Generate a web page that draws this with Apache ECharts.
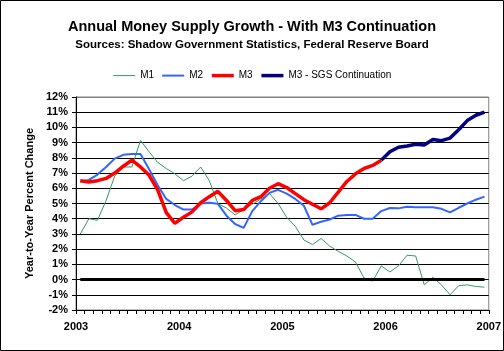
<!DOCTYPE html>
<html>
<head>
<meta charset="utf-8">
<script src="https://cdn.jsdelivr.net/npm/echarts@6/dist/echarts.min.js"></script>
<style>
    html, body { margin: 0; padding: 0; background: #fff; }
    #chart { width: 504px; height: 351px; }
</style>
</head>
<body>
<div id="chart"></div>
<script>
// Monthly categories, Jan 2003 - Dec 2006
const months = [
    '2003-01','2003-02','2003-03','2003-04','2003-05','2003-06','2003-07','2003-08','2003-09','2003-10','2003-11','2003-12',
    '2004-01','2004-02','2004-03','2004-04','2004-05','2004-06','2004-07','2004-08','2004-09','2004-10','2004-11','2004-12',
    '2005-01','2005-02','2005-03','2005-04','2005-05','2005-06','2005-07','2005-08','2005-09','2005-10','2005-11','2005-12',
    '2006-01','2006-02','2006-03','2006-04','2006-05','2006-06','2006-07','2006-08','2006-09','2006-10','2006-11','2006-12'
];
const yearLabels = ['2003', '2004', '2005', '2006', '2007'];

// Year-to-year percent change
const m1 = [
    3.0, 4.0, 3.9, 5.2, 6.8, 7.4, 7.4, 9.15, 8.4, 7.7, 7.3, 6.95,
    6.5, 6.8, 7.4, 6.5, 5.0, 4.7, 4.25, 4.6, 4.95, 5.3, 5.65, 5.0,
    4.1, 3.5, 2.6, 2.3, 2.7, 2.2, 1.85, 1.55, 1.15, 0.1, -0.1, 0.9,
    0.5, 0.9, 1.6, 1.55, -0.35, 0.15, -0.35, -1.0, -0.4, -0.35, -0.45, -0.5
];
const m2 = [
    6.45, 6.55, 6.9, 7.4, 7.95, 8.2, 8.25, 8.25, 7.25, 6.2, 5.3, 4.9,
    4.6, 4.6, 5.0, 5.05, 4.98, 4.2, 3.65, 3.4, 4.5, 5.15, 5.7, 5.9,
    5.65, 5.3, 4.85, 3.6, 3.8, 3.95, 4.2, 4.25, 4.25, 4.0, 4.0, 4.5,
    4.7, 4.68, 4.78, 4.75, 4.75, 4.75, 4.65, 4.42, 4.72, 5.0, 5.25, 5.45
];
const m3 = [
    6.5, 6.42, 6.5, 6.65, 7.0, 7.45, 7.85, 7.4, 6.85, 5.9, 4.4, 3.7,
    4.1, 4.45, 5.05, 5.45, 5.8, 5.2, 4.53, 4.6, 5.2, 5.45, 6.0, 6.3,
    6.05, 5.65, 5.25, 4.95, 4.65, 5.05, 5.75, 6.45, 6.95, 7.3, 7.5, 7.85,
    null, null, null, null, null, null, null, null, null, null, null, null
];
const m3Sgs = [
    null, null, null, null, null, null, null, null, null, null, null, null,
    null, null, null, null, null, null, null, null, null, null, null, null,
    null, null, null, null, null, null, null, null, null, null, null, 7.85,
    8.4, 8.7, 8.78, 8.9, 8.85, 9.2, 9.13, 9.3, 9.85, 10.45, 10.8, 11.0
];

const font = "'Liberation Sans', Arial, sans-serif";

// black grid lines, the top one grey like the plot border
const splitColors = [];
for (let i = 0; i < 14; i++) splitColors.push('#000');
splitColors.push('#808080');

const chart = echarts.init(document.getElementById('chart'));
chart.setOption({
    backgroundColor: '#fff',
    animation: false,
    textStyle: { fontFamily: font },
    title: [
        {
            text: 'Annual Money Supply Growth - With M3 Continuation',
            left: 'center', top: 19, padding: 0,
            textStyle: { fontFamily: font, fontSize: 14.5, fontWeight: 'bold', color: '#000' }
        },
        {
            text: 'Sources: Shadow Government Statistics, Federal Reserve Board',
            left: 'center', top: 39, padding: 0,
            textStyle: { fontFamily: font, fontSize: 11.5, fontWeight: 'bold', color: '#000' }
        }
    ],
    graphic: [{
        type: 'rect',
        shape: { x: 0.5, y: 0.5, width: 503, height: 350 },
        style: { fill: 'none', stroke: '#000', lineWidth: 1 },
        silent: true
    }],
    legend: {
        top: 65, left: 'center',
        itemWidth: 22, itemHeight: 14, itemGap: 7,
        itemStyle: { opacity: 0 },
        textStyle: { fontFamily: font, fontSize: 10, color: '#000' },
        data: [
            { name: 'M1', lineStyle: { width: 1 } },
            { name: 'M2', lineStyle: { width: 2 } },
            { name: 'M3', lineStyle: { width: 3.5 } },
            { name: 'M3 - SGS Continuation', lineStyle: { width: 3.5 } }
        ]
    },
    grid: {
        left: 76, right: 15, top: 97, bottom: 41,
        show: true, borderColor: '#808080', borderWidth: 1, backgroundColor: '#fff'
    },
    xAxis: [
        {
            type: 'category', data: months, boundaryGap: true,
            axisLine: { onZero: false, lineStyle: { color: '#000', width: 1 } },
            axisTick: { show: true, interval: 0, length: 4, inside: false, lineStyle: { color: '#000' } },
            axisLabel: { show: false },
            splitLine: { show: false }
        },
        {
            type: 'value', min: 0, max: 48, interval: 12, position: 'bottom',
            axisLine: { show: false }, axisTick: { show: false }, splitLine: { show: false },
            axisLabel: {
                margin: 11, color: '#000', fontFamily: font, fontSize: 11, fontWeight: 'bold',
                formatter: v => yearLabels[v / 12]
            }
        }
    ],
    yAxis: {
        type: 'value', min: -2, max: 12, interval: 1,
        name: 'Year-to-Year Percent Change', nameLocation: 'middle', nameGap: 32,
        nameTextStyle: { fontFamily: font, fontSize: 11, fontWeight: 'bold', color: '#000' },
        axisLine: { show: true, lineStyle: { color: '#000', width: 1 } },
        axisTick: { show: true, length: 4, lineStyle: { color: '#000' } },
        axisLabel: { margin: 8, color: '#000', fontFamily: font, fontSize: 11, fontWeight: 'bold', formatter: '{value}%' },
        splitLine: { show: true, lineStyle: { color: splitColors, width: 1 } }
    },
    series: [
        {
            name: 'M1', type: 'line', data: m1, showSymbol: false, symbol: 'none',
            lineStyle: { color: '#339966', width: 1 }, itemStyle: { color: '#339966' },
            markLine: {
                silent: true, symbol: ['none', 'none'], animation: false,
                label: { show: false },
                lineStyle: { color: '#000', width: 3, type: 'solid' },
                data: [[{ coord: [0, 0] }, { coord: [months.length - 1, 0] }]]
            }
        },
        {
            name: 'M2', type: 'line', data: m2, showSymbol: false, symbol: 'none',
            lineStyle: { color: '#3366ff', width: 2 }, itemStyle: { color: '#3366ff' }
        },
        {
            name: 'M3', type: 'line', data: m3, showSymbol: false, symbol: 'none',
            lineStyle: { color: '#ff0000', width: 3.5 }, itemStyle: { color: '#ff0000' }
        },
        {
            name: 'M3 - SGS Continuation', type: 'line', data: m3Sgs, showSymbol: false, symbol: 'none',
            lineStyle: { color: '#000080', width: 3.5 }, itemStyle: { color: '#000080' }
        }
    ]
});
</script>
</body>
</html>
